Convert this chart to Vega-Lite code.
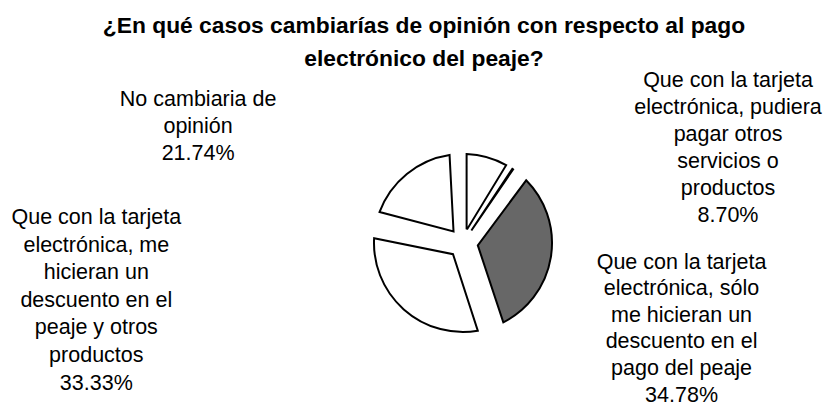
{
  "$schema": "https://vega.github.io/schema/vega-lite/v6.json",
  "width": 722,
  "height": 318,
  "autosize": "none",
  "padding": {"left": 102, "top": 84, "right": 0, "bottom": 0},
  "background": "white",
  "config": {"view": {"stroke": null}},
  "title": {
    "text": ["¿En qué casos cambiarías de opinión con respecto al pago", "electrónico del peaje?"],
    "font": "Liberation Sans",
    "fontSize": 22.8,
    "fontWeight": "bold",
    "color": "black",
    "anchor": "middle",
    "dx": -39,
    "offset": -1,
    "lineHeight": 33
  },
  "data": {
    "values": [
      {"orden": 1, "categoria": "Que con la tarjeta electrónica, pudiera pagar otros servicios o productos", "etiqueta": "Que con la tarjeta\nelectrónica, pudiera\npagar otros\nservicios o\nproductos\n8.70%", "porcentaje": 8.70},
      {"orden": 2, "categoria": "Otro", "etiqueta": "", "porcentaje": 1.45},
      {"orden": 3, "categoria": "Que con la tarjeta electrónica, sólo me hicieran un descuento en el pago del peaje", "etiqueta": "Que con la tarjeta\nelectrónica, sólo\nme hicieran un\ndescuento en el\npago del peaje\n34.78%", "porcentaje": 34.78},
      {"orden": 4, "categoria": "Que con la tarjeta electrónica, me hicieran un descuento en el peaje y otros productos", "etiqueta": "Que con la tarjeta\nelectrónica, me\nhicieran un\ndescuento en el\npeaje y otros\nproductos\n33.33%", "porcentaje": 33.33},
      {"orden": 5, "categoria": "No cambiaria de opinión", "etiqueta": "No cambiaria de\nopinión\n21.74%", "porcentaje": 21.74}
    ]
  },
  "transform": [
    {"stack": "porcentaje", "groupby": [], "sort": [{"field": "orden", "order": "ascending"}], "as": ["ini", "fin"]}
  ],
  "encoding": {
    "theta": {"field": "ini", "type": "quantitative", "scale": {"domain": [0, 100]}},
    "theta2": {"field": "fin"}
  },
  "layer": [
    {
      "transform": [{"filter": "datum.orden > 2"}],
      "mark": {"type": "arc", "outerRadius": 89, "innerRadius": 15, "padAngle": 0.299, "stroke": "black", "strokeWidth": 2},
      "encoding": {
        "color": {
          "field": "categoria", "type": "nominal", "legend": null,
          "scale": {
            "domain": [
              "Que con la tarjeta electrónica, pudiera pagar otros servicios o productos",
              "Otro",
              "Que con la tarjeta electrónica, sólo me hicieran un descuento en el pago del peaje",
              "Que con la tarjeta electrónica, me hicieran un descuento en el peaje y otros productos",
              "No cambiaria de opinión"
            ],
            "range": ["white", "black", "#676767", "white", "white"]
          }
        }
      }
    },
    {
      "transform": [{"filter": "datum.orden <= 2"}],
      "mark": {"type": "arc", "outerRadius": 89, "innerRadius": 15, "padAngle": 0.08, "stroke": "black", "strokeWidth": 2},
      "encoding": {
        "color": {"field": "categoria", "type": "nominal", "legend": null}
      }
    },
    {
      "transform": [{"filter": "datum.orden == 1"}],
      "mark": {"type": "text", "radius": 100, "dx": 265, "dy": -62, "font": "Liberation Sans", "fontSize": 21.5, "lineHeight": 27, "lineBreak": "\n", "align": "center", "baseline": "middle", "color": "black"},
      "encoding": {"text": {"field": "etiqueta"}}
    },
    {
      "transform": [{"filter": "datum.orden == 3"}],
      "mark": {"type": "text", "radius": 100, "dx": 159, "dy": 100, "font": "Liberation Sans", "fontSize": 21.5, "lineHeight": 26.6, "lineBreak": "\n", "align": "center", "baseline": "middle", "color": "black"},
      "encoding": {"text": {"field": "etiqueta"}}
    },
    {
      "transform": [{"filter": "datum.orden == 4"}],
      "mark": {"type": "text", "radius": 100, "dx": -398, "dy": -120, "font": "Liberation Sans", "fontSize": 21.5, "lineHeight": 27.6, "lineBreak": "\n", "align": "center", "baseline": "middle", "color": "black"},
      "encoding": {"text": {"field": "etiqueta"}}
    },
    {
      "transform": [{"filter": "datum.orden == 5"}],
      "mark": {"type": "text", "radius": 100, "dx": -167, "dy": -123, "font": "Liberation Sans", "fontSize": 21.5, "lineHeight": 27, "lineBreak": "\n", "align": "center", "baseline": "middle", "color": "black"},
      "encoding": {"text": {"field": "etiqueta"}}
    }
  ]
}
